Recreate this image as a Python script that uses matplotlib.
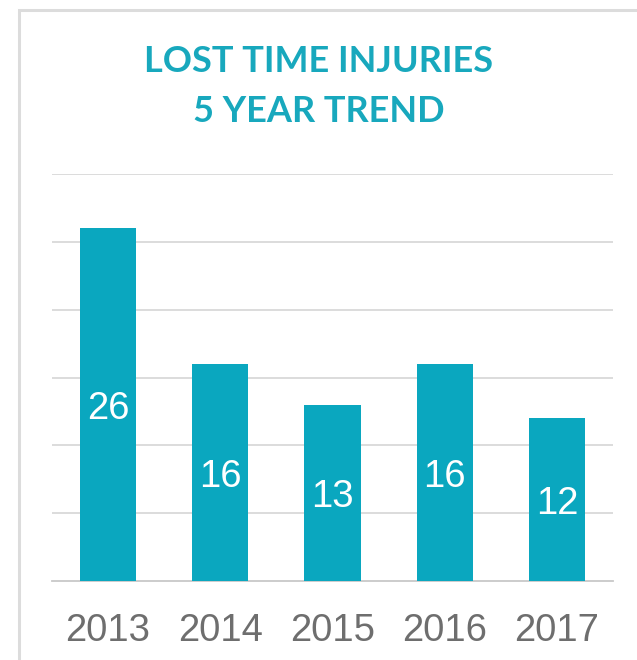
import matplotlib
matplotlib.use('agg')
import matplotlib.pyplot as plt
from matplotlib.patches import Rectangle

years = ['2013', '2014', '2015', '2016', '2017']
injuries = [26, 16, 13, 16, 12]
grid_ticks = [5, 10, 15, 20, 25, 30]

teal = '#0aa7bf'
fig = plt.figure(figsize=(6.37, 6.60), dpi=100)

# light frame around the panel (top and left edges visible)
fig.patches.append(Rectangle((19 / 637, -0.1), 1.0, 1 - 9.5 / 660 + 0.1,
                             transform=fig.transFigure, fill=False,
                             edgecolor='#dcdcdc', linewidth=2.2))

ax = fig.add_axes([52 / 637, 79 / 660, 561 / 637, 407 / 660])
x = range(len(years))
ax.bar(x, injuries, width=0.5, color=teal, zorder=3)
for i, v in zip(x, injuries):
    ax.text(i, v / 2 - 0.3, str(v), ha='center', va='center', color='white',
            fontsize=27.5, family='Liberation Sans', zorder=4)

ax.set_xlim(-0.5, len(years) - 0.5)
ax.set_ylim(0, 30)
ax.set_yticks(grid_ticks)
ax.yaxis.grid(True, color='#d9d9d9', linewidth=1.3, zorder=0)
ax.tick_params(axis='y', left=False, labelleft=False)
ax.set_xticks(list(x))
ax.set_xticklabels(years, fontsize=27.5, color='#6e6e6e', family='Liberation Sans')
ax.tick_params(axis='x', length=0, pad=23)
for s in ['top', 'left', 'right']:
    ax.spines[s].set_visible(False)
ax.spines['bottom'].set_color('#c8c8c8')
ax.spines['bottom'].set_linewidth(1.3)

fig.text(0.5, 1 - 62 / 660, 'LOST TIME INJURIES', ha='center', va='center',
         color='#18a8bd', fontsize=26, fontweight='bold', family='Lato')
fig.text(0.5, 1 - 112 / 660, '5 YEAR TREND', ha='center', va='center',
         color='#18a8bd', fontsize=26, fontweight='bold', family='Lato')

fig.savefig('out.png', dpi=100)
